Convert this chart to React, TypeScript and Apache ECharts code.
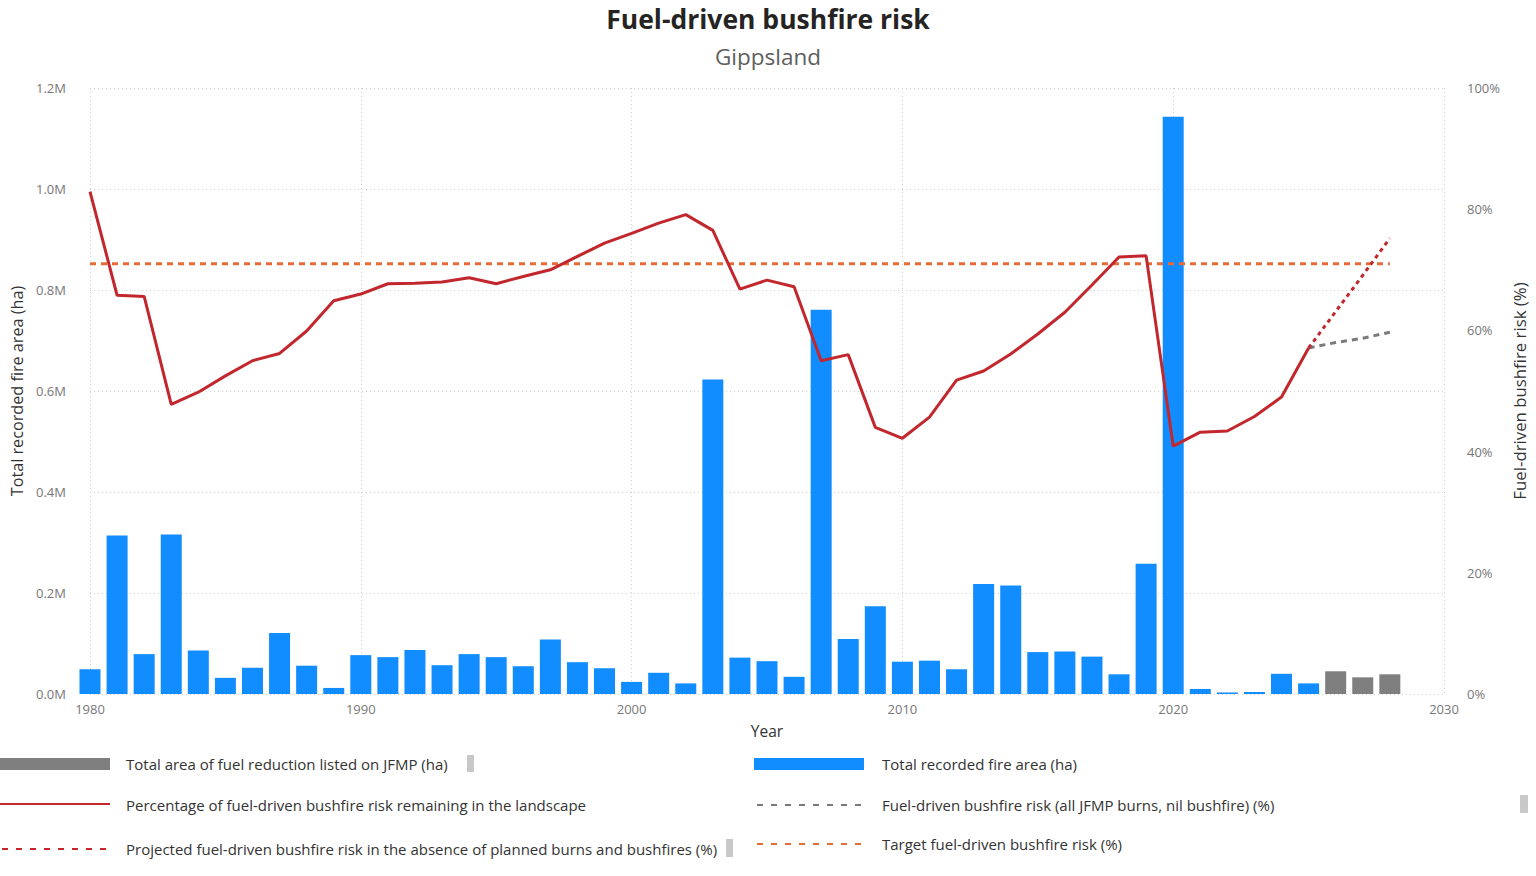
import React, { useEffect, useRef } from "react";
import * as echarts from "echarts";

// Recorded fire area per year (ha), 1980–2025
const FIRE_START_YEAR = 1980;
const fireArea = [
  49000, 314000, 79000, 316000, 86000, 32000, 52000, 121000, 56000, 12000,
  77000, 73000, 87000, 57000, 79000, 73000, 55000, 108000, 63000, 51000,
  24000, 42000, 21000, 623000, 72000, 65000, 34000, 761000, 109000, 174000,
  64000, 66000, 49000, 218000, 215000, 83000, 84000, 74000, 39000, 258000,
  1143000, 10000, 3000, 4000, 40000, 21000,
];

// Planned fuel reduction listed on the JFMP (ha)
const jfmpYears = [2026, 2027, 2028];
const jfmpArea = [45000, 33000, 39000];

// Fuel-driven bushfire risk remaining in the landscape (%), 1980–2025
const riskRemaining = [
  82.9, 65.8, 65.6, 47.8, 49.8, 52.5, 55.0, 56.2, 59.9, 64.9,
  66.0, 67.7, 67.8, 68.0, 68.7, 67.7, 68.9, 70.0, 72.2, 74.4,
  76.0, 77.7, 79.1, 76.5, 66.8, 68.3, 67.2, 55.0, 56.0, 44.0,
  42.2, 45.7, 51.8, 53.3, 56.1, 59.4, 63.0, 67.5, 72.1, 72.3,
  40.9, 43.2, 43.4, 45.8, 49.0, 57.1,
];

// Forward projections (%)
const projectionYears = [2025, 2026, 2027, 2028];
const projectedNoBurns = [57.1, 63.1, 69.1, 75.2];
const projectedAllJfmp = [57.1, 58.0, 58.7, 59.7];

// Target risk level (%)
const targetYears = [1980, 2028];
const targetRisk = 71;

const leftTicks = { min: 0, max: 1200000, interval: 200000 };
const rightTicks = { min: 0, max: 100, interval: 20 };

const FONT = "'Segoe UI', 'Open Sans', sans-serif";
const BLUE = "#118DFF";
const GREY_BAR = "#7F7F7F";
const RED = "#C1272D";
const GREY_LINE = "#7A7A7A";
const ORANGE = "#E66C37";
const LABEL = "#777777";
const DARK = "#333333";

const NAMES = {
  jfmp: "Total area of fuel reduction listed on JFMP (ha)",
  fire: "Total recorded fire area (ha)",
  risk: "Percentage of fuel-driven bushfire risk remaining in the landscape",
  allJfmp: "Fuel-driven bushfire risk (all JFMP burns, nil bushfire) (%)",
  noBurns: "Projected fuel-driven bushfire risk in the absence of planned burns and bushfires (%)",
  target: "Target fuel-driven bushfire risk (%)",
};

export default function App() {
  const ref = useRef<HTMLDivElement>(null);

  useEffect(() => {
    if (!ref.current) return;
    const chart = echarts.init(ref.current, null, { renderer: "svg" });

    const fireData = fireArea.map((v, i) => [FIRE_START_YEAR + i, v]);
    const riskData = riskRemaining.map((v, i) => [FIRE_START_YEAR + i, v]);
    const jfmpData = jfmpYears.map((y, i) => [y, jfmpArea[i]]);
    const noBurnsData = projectionYears.map((y, i) => [y, projectedNoBurns[i]]);
    const allJfmpData = projectionYears.map((y, i) => [y, projectedAllJfmp[i]]);
    const targetData = targetYears.map((y) => [y, targetRisk]);

    const legendText = (text: string, x: number, y: number) => ({
      type: "text",
      left: x,
      top: y - 9,
      style: { text, fill: DARK, font: `15px ${FONT}` },
    });
    const dashLine = (x1: number, x2: number, y: number, color: string, dash: number[] | null, w = 2) => ({
      type: "line",
      shape: { x1, y1: y, x2, y2: y },
      style: { stroke: color, lineWidth: w, lineDash: dash || undefined },
    });

    chart.setOption({
      animation: false,
      textStyle: { fontFamily: FONT },
      title: {
        text: "Fuel-driven bushfire risk",
        subtext: "Gippsland",
        left: "center",
        top: 0,
        itemGap: 13,
        textStyle: { fontFamily: FONT, fontSize: 26.5, fontWeight: "bold", color: "#252423" },
        subtextStyle: { fontFamily: FONT, fontSize: 22.5, color: "#605E5C" },
      },
      grid: { left: 90, right: 91, top: 88, bottom: 182, containLabel: false },
      xAxis: {
        type: "value",
        min: 1980,
        max: 2030,
        interval: 10,
        name: "Year",
        nameLocation: "middle",
        nameGap: 29,
        nameTextStyle: { fontFamily: FONT, fontSize: 15.5, color: DARK },
        axisLine: { show: false },
        axisTick: { show: false },
        axisLabel: { color: LABEL, fontSize: 13, margin: 8, formatter: (v: number) => String(v) },
        splitLine: { show: true, lineStyle: { color: "#D0D0D0", type: [1, 3], width: 1 } },
      },
      yAxis: [
        {
          type: "value",
          ...leftTicks,
          name: "Total recorded fire area (ha)",
          nameLocation: "middle",
          nameGap: 64,
          nameTextStyle: { fontFamily: FONT, fontSize: 16.2, color: DARK },
          axisLine: { show: false },
          axisTick: { show: false },
          axisLabel: {
            color: LABEL,
            fontSize: 13,
            margin: 24,
            formatter: (v: number) => (v / 1e6).toFixed(1) + "M",
          },
          splitLine: { show: true, lineStyle: { color: "#D0D0D0", type: [1, 3], width: 1 } },
        },
        {
          type: "value",
          ...rightTicks,
          position: "right",
          name: "Fuel-driven bushfire risk (%)",
          nameLocation: "middle",
          nameGap: 67,
          nameTextStyle: { fontFamily: FONT, fontSize: 16.8, color: DARK },
          axisLine: { show: false },
          axisTick: { show: false },
          axisLabel: { color: LABEL, fontSize: 13, margin: 23, formatter: "{value}%" },
          splitLine: { show: false },
        },
      ],
      series: [
        {
          name: NAMES.fire,
          type: "bar",
          data: fireData,
          barWidth: 21,
          barGap: "-100%",
          itemStyle: { color: BLUE },
          z: 2,
        },
        {
          name: NAMES.jfmp,
          type: "bar",
          data: jfmpData,
          barWidth: 21,
          barGap: "-100%",
          itemStyle: { color: GREY_BAR },
          z: 2,
        },
        {
          name: NAMES.target,
          type: "line",
          yAxisIndex: 1,
          data: targetData,
          symbol: "none",
          lineStyle: { color: ORANGE, width: 3, type: [6, 5] },
          z: 3,
        },
        {
          name: NAMES.allJfmp,
          type: "line",
          yAxisIndex: 1,
          data: allJfmpData,
          symbol: "none",
          lineStyle: { color: GREY_LINE, width: 3, type: [6, 5] },
          z: 4,
        },
        {
          name: NAMES.noBurns,
          type: "line",
          yAxisIndex: 1,
          data: noBurnsData,
          symbol: "none",
          lineStyle: { color: RED, width: 3, type: [4, 4] },
          z: 4,
        },
        {
          name: NAMES.risk,
          type: "line",
          yAxisIndex: 1,
          data: riskData,
          symbol: "none",
          lineStyle: { color: RED, width: 3 },
          z: 5,
        },
      ],
      graphic: [
        // legend, left column
        { type: "rect", shape: { x: 0, y: 758, width: 110, height: 12 }, style: { fill: GREY_BAR } },
        legendText(NAMES.jfmp, 126, 765),
        { type: "rect", shape: { x: 467, y: 755, width: 7, height: 17 }, style: { fill: "#C8C8C8" } },
        dashLine(0, 110, 804, RED, null, 2),
        legendText(NAMES.risk, 126, 806),
        dashLine(2, 110, 849, RED, [6, 8], 2),
        legendText(NAMES.noBurns, 126, 850),
        { type: "rect", shape: { x: 726, y: 839, width: 7, height: 18 }, style: { fill: "#C8C8C8" } },
        // legend, right column
        { type: "rect", shape: { x: 754, y: 758, width: 110, height: 12 }, style: { fill: BLUE } },
        legendText(NAMES.fire, 882, 765),
        dashLine(757, 864, 805, GREY_LINE, [6, 8], 2),
        legendText(NAMES.allJfmp, 882, 806),
        { type: "rect", shape: { x: 1520, y: 795, width: 8, height: 18 }, style: { fill: "#C8C8C8" } },
        dashLine(757, 864, 844, ORANGE, [6, 8], 2),
        legendText(NAMES.target, 882, 845),
      ],
    });

    return () => chart.dispose();
  }, []);

  return (
    <div
      ref={ref}
      style={{ position: "fixed", left: 0, top: 0, width: 1536, height: 876, background: "#fff" }}
    />
  );
}
